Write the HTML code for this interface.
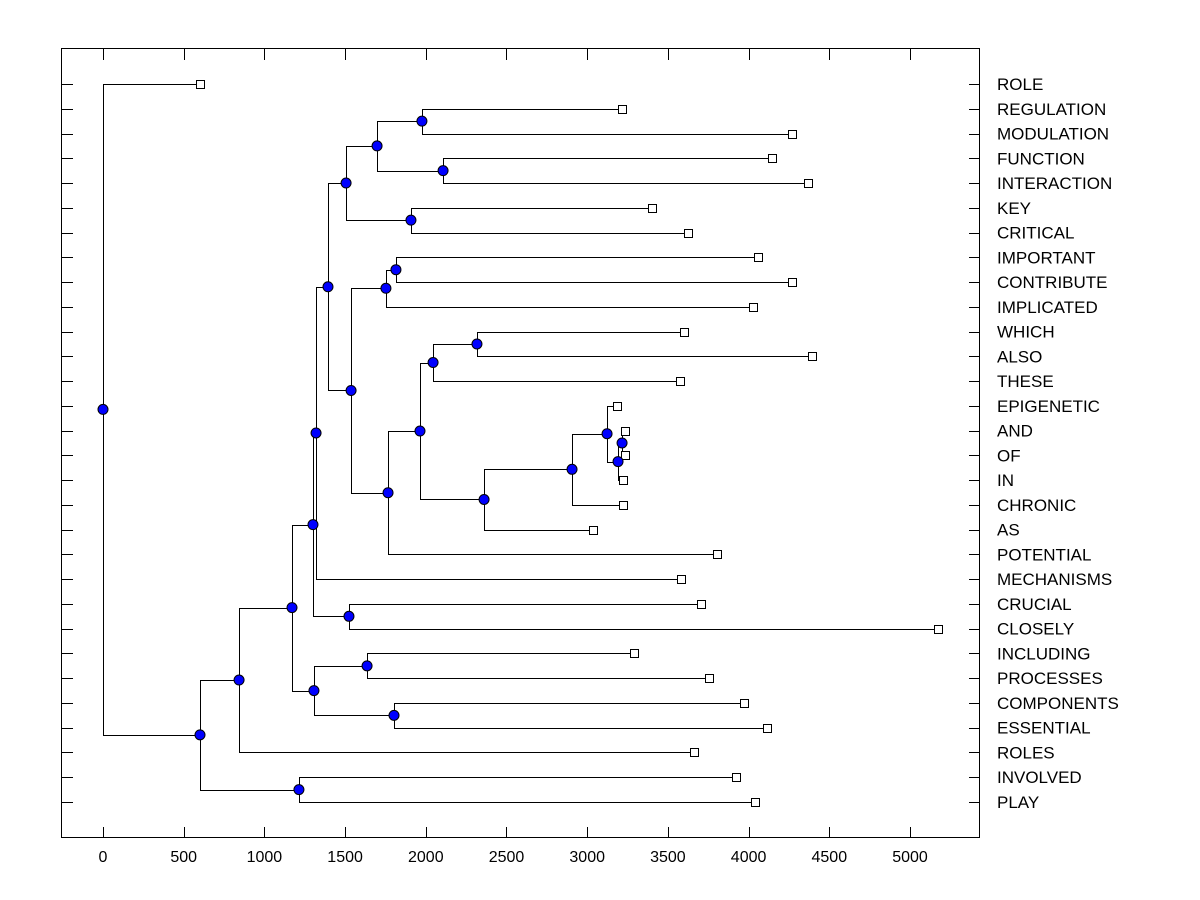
<!DOCTYPE html>
<html><head><meta charset="utf-8"><style>
html,body{margin:0;padding:0;background:#fff;}
svg{display:block;font-family:"Liberation Sans",Arial,sans-serif;}
</style></head><body>
<svg id="chart" width="1200" height="900">
<rect x="61.5" y="48.5" width="918" height="789" fill="#fff" stroke="#000" stroke-width="1"/>
<g id="ticks"></g>
<g id="links"></g>
<g id="marks"></g>
<g id="labels"></g>
</svg>
<script>
const leafLabels = ["ROLE","REGULATION","MODULATION","FUNCTION","INTERACTION","KEY","CRITICAL","IMPORTANT","CONTRIBUTE","IMPLICATED","WHICH","ALSO","THESE","EPIGENETIC","AND","OF","IN","CHRONIC","AS","POTENTIAL","MECHANISMS","CRUCIAL","CLOSELY","INCLUDING","PROCESSES","COMPONENTS","ESSENTIAL","ROLES","INVOLVED","PLAY"];
const leafValues = [601,3216,4269,4145,4368,3401,3625,4058,4269,4027,3600,4393,3575,3185,3234,3234,3222,3222,3036,3804,3581,3705,5173,3290,3755,3971,4114,3662,3922,4040];
const mergeLeft  = [1,3,30,5,32,7,35,10,37,14,39,13,41,42,38,44,36,34,47,21,48,23,25,51,50,54,28,55,0];
const mergeRight = [2,4,31,6,33,8,9,11,12,15,16,40,17,18,43,19,45,46,20,22,49,24,26,52,53,27,29,56,57];
const mergeValues = [1976,2107,1698,1908,1506,1815,1753,2317,2045,3216,3191,3123,2906,2361,1964,1766,1537,1394,1320,1524,1301,1636,1803,1307,1171,843,1214,601,0];
const xTicks = [0,500,1000,1500,2000,2500,3000,3500,4000,4500,5000];

const NS="http://www.w3.org/2000/svg";
const X0=103, XS=(910-103)/5000;
const xScale=v=>X0+v*XS;
const yTop=84, yStep=(802-84)/29;
const yLeaf=i=>yTop+i*yStep;
function mk(tag,attrs,parent){const e=document.createElementNS(NS,tag);for(const k in attrs)e.setAttribute(k,attrs[k]);parent.appendChild(e);return e;}
const gT=document.getElementById('ticks'),gL=document.getElementById('links'),gM=document.getElementById('marks'),gLab=document.getElementById('labels');

xTicks.forEach(t=>{
  const x=Math.round(xScale(t))+0.5;
  const a=mk('line',{x1:x,x2:x,y1:838,y2:827,stroke:'#000'},gT);
  
  
  const b=mk('line',{x1:x,x2:x,y1:49,y2:60,stroke:'#000'},gT);
  
  
  const tx=mk('text',{x:xScale(t),y:862,'text-anchor':'middle','font-size':'16'},gT);
  tx.textContent=t;
  
  
});
leafLabels.forEach((lab,i)=>{
  const y=Math.round(yLeaf(i))+0.5;
  const a=mk('line',{x1:62,x2:73,y1:y,y2:y,stroke:'#000'},gT);
  
  
  const b=mk('line',{x1:969,x2:980,y1:y,y2:y,stroke:'#000'},gT);
  
  
  const t=mk('text',{x:997,y:yLeaf(i)+6,'font-size':'17'},gLab);
  t.textContent=lab;
  
  
});

const nx=[],ny=[];
leafValues.forEach((v,i)=>{nx[i]=xScale(v);ny[i]=yLeaf(i);});
const N=leafValues.length;
mergeValues.forEach((v,k)=>{
  const a=mergeLeft[k],b=mergeRight[k],id=N+k;
  nx[id]=xScale(v);ny[id]=(ny[a]+ny[b])/2;
  const x=Math.round(nx[id])+0.5;
  const p=mk('path',{d:`M${nx[a]},${Math.round(ny[a])+0.5}H${x}V${Math.round(ny[b])+0.5}H${nx[b]}`,fill:'none',stroke:'#000','stroke-width':1},gL);
  
  
});
leafValues.forEach((v,i)=>{
  const r=mk('rect',{x:Math.round(nx[i])-3.5,y:Math.round(ny[i])-3.5,width:8,height:8,fill:'#fff',stroke:'#000'},gM);
  
  
});
mergeValues.forEach((v,k)=>{
  const id=N+k;
  const c=mk('circle',{cx:nx[id],cy:ny[id],r:5,fill:'#0000ff',stroke:'#000','stroke-width':1},gM);
  
  
});
</script>
</body></html>
